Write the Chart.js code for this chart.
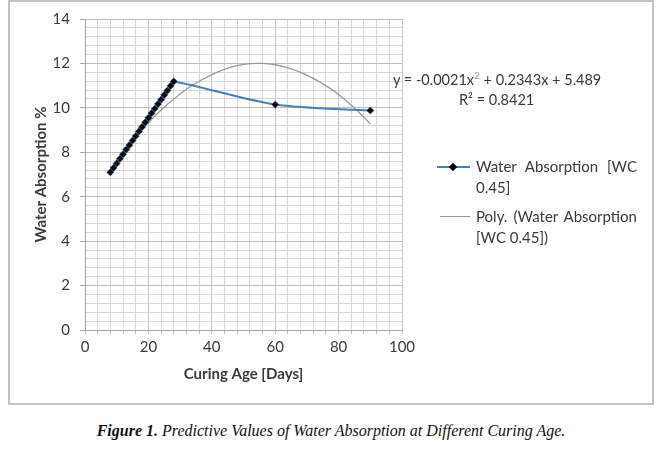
<!DOCTYPE html>
<html>
<head>
<meta charset="utf-8">
<script src="https://cdn.jsdelivr.net/npm/chart.js@4/dist/chart.umd.min.js"></script>
<style>
  body { margin: 0; width: 662px; height: 458px; background: #fff; position: relative; overflow: hidden; font-family: Lato, sans-serif; color: #3a3a3a; }
  #wrap { position: absolute; left: 0; top: 0; width: 662px; height: 410px; }
  .eq { position: absolute; font-size: 14.5px; white-space: nowrap; }
  .leg { position: absolute; left: 476px; width: 161px; font-size: 15px; line-height: 21px; text-align: justify; }
  .legline { position: absolute; height: 2px; }
  .diamond { position: absolute; width: 6px; height: 6px; background: #000; transform: rotate(45deg); }
  #caption { position: absolute; left: 0; width: 662px; top: 422px; text-align: center; font-family: "Liberation Serif", serif; font-style: italic; font-size: 16px; color: #111; }
</style>
</head>
<body>
<div id="wrap"><canvas id="chart" width="662" height="410"></canvas></div>

<div class="eq" style="left:393px; top:69px;">y = -0.0021x<sup style="font-size:10px;color:#999">2</sup> + 0.2343x + 5.489</div>
<div class="eq" style="left:459px; top:91px;">R² = 0.8421</div>

<div class="legline" style="left:437px; top:166px; width:33px; background:#4a7ebb;"></div>
<div class="diamond" style="left:450px; top:164px;"></div>
<div class="leg" style="top:156px;">Water Absorption [WC 0.45]</div>

<div class="legline" style="left:440px; top:216px; width:30px; height:1px; background:#999;"></div>
<div class="leg" style="top:206px;">Poly. (Water Absorption [WC 0.45])</div>

<div id="caption"><b>Figure 1.</b> Predictive Values of Water Absorption at Different Curing Age.</div>

<script>
// measured series: curing age (days) and water absorption (%)
const days = [8, 9, 10, 11, 12, 13, 14, 15, 16, 17, 18, 19, 20, 21, 22, 23, 24, 25, 26, 27, 28, 60, 90];
const absorption = [7.10, 7.30, 7.50, 7.71, 7.91, 8.12, 8.32, 8.53, 8.73, 8.94, 9.14, 9.35, 9.55, 9.76, 9.96, 10.17, 10.37, 10.58, 10.78, 10.99, 11.19, 10.15, 9.88];

// polynomial trend line
const trendDays = [8, 12, 16, 20, 24, 28, 32, 36, 40, 44, 48, 52, 56, 60, 64, 68, 72, 76, 80, 84, 88, 90];
const trendValues = [7.20, 7.99, 8.70, 9.33, 9.90, 10.40, 10.84, 11.20, 11.50, 11.73, 11.90, 11.99, 12.00, 11.94, 11.80, 11.60, 11.33, 11.00, 10.60, 10.12, 9.58, 9.28];

const xTickLabels = [0, 20, 40, 60, 80, 100];
const yTickLabels = [0, 2, 4, 6, 8, 10, 12, 14];

const isMajor = (list, v) => list.some(t => Math.abs(t - v) < 1e-6);

const toPoints = (xs, ys) => xs.map((x, i) => ({ x: x, y: ys[i] }));

const frame = {
    id: 'frame',
    beforeDraw(chart) {
        const ctx = chart.ctx;
        ctx.save();
        ctx.strokeStyle = '#c3c3c3';
        ctx.lineWidth = 2;
        ctx.strokeRect(9, 1, 644, 403);
        ctx.restore();
    }
};

const tickFont = { family: 'Lato', size: 15 };
const titleFont = { family: 'Lato', size: 15, weight: 'bold' };

new Chart(document.getElementById('chart'), {
    type: 'scatter',
    data: {
        datasets: [
            {
                label: 'Water Absorption [WC 0.45]',
                data: toPoints(days, absorption),
                showLine: true,
                borderColor: '#4a7ebb',
                borderWidth: 2,
                tension: 0.3,
                pointStyle: 'rectRot',
                pointRadius: 3.6,
                pointBackgroundColor: '#0a0a14',
                pointBorderColor: '#2a4a70',
                pointBorderWidth: 0.5,
            },
            {
                label: 'Poly. (Water Absorption [WC 0.45])',
                data: toPoints(trendDays, trendValues),
                showLine: true,
                borderColor: '#9a9a9a',
                borderWidth: 1.3,
                tension: 0.4,
                pointRadius: 0,
            },
        ],
    },
    options: {
        responsive: false,
        animation: false,
        layout: { padding: { left: 8, right: 260, top: 14, bottom: 24 } },
        plugins: { legend: { display: false }, tooltip: { enabled: false } },
        scales: {
            x: {
                type: 'linear',
                min: 0,
                max: 100,
                afterFit: (s) => { s.height = 56; },
                ticks: {
                    stepSize: 4,
                    autoSkip: false,
                    maxRotation: 0,
                    padding: 4,
                    color: '#3a3a3a',
                    font: tickFont,
                    callback: (v) => isMajor(xTickLabels, v) ? String(v) : '',
                },
                grid: {
                    color: (c) => (c.tick && isMajor(xTickLabels, c.tick.value)) ? '#c4c4c4' : '#d8d8d8',
                    tickLength: 4,
                    tickColor: '#bdbdbd',
                },
                border: { color: '#a6a6a6' },
                title: { display: true, text: 'Curing Age [Days]', color: '#3a3a3a', font: titleFont, padding: { top: 0, bottom: 3 } },
            },
            y: {
                min: 0,
                max: 14,
                afterFit: (s) => { s.width = 77; },
                ticks: {
                    stepSize: 0.4,
                    autoSkip: false,
                    padding: 10,
                    color: '#3a3a3a',
                    font: tickFont,
                    callback: (v) => isMajor(yTickLabels, v) ? String(Math.round(v)) : '',
                },
                grid: {
                    color: (c) => (c.tick && isMajor(yTickLabels, c.tick.value)) ? '#bdbdbd' : '#d8d8d8',
                    tickLength: 5,
                    tickColor: (c) => (c.tick && isMajor(yTickLabels, c.tick.value)) ? '#a6a6a6' : 'rgba(0,0,0,0)',
                },
                border: { color: '#a6a6a6' },
                title: { display: true, text: 'Water Absorption %', color: '#3a3a3a', font: titleFont, padding: { top: 24, bottom: 0 } },
            },
        },
    },
    plugins: [frame],
});
</script>
</body>
</html>
